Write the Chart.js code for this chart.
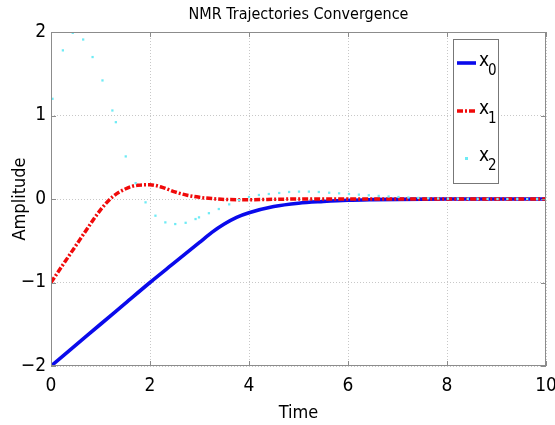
<!DOCTYPE html>
<html>
<head>
<meta charset="utf-8">
<script src="https://cdn.jsdelivr.net/npm/chart.js@4/dist/chart.umd.min.js"></script>
<style>
html,body{margin:0;padding:0;background:#fff;}
#wrap{position:relative;width:555px;height:425px;}
</style>
</head>
<body>
<div id="wrap"><canvas id="c" width="555" height="425"></canvas></div>
<script>
// ---- data ----
const chartTitle = "NMR Trajectories Convergence";
const xTitle = "Time";
const yTitle = "Amplitude";
const xTicks = [0, 2, 4, 6, 8, 10];
const yTicks = [-2, -1, 0, 1, 2];

const t0 = [0, 0.5, 1, 1.5, 2, 2.5, 3, 3.25, 3.5, 3.75, 4, 4.5, 5, 5.5, 6, 6.5, 7, 8, 9, 10];
const x0Values = [-2, -1.75, -1.5, -1.25, -1.0, -0.76, -0.52, -0.40, -0.30, -0.22, -0.165, -0.09, -0.05, -0.03, -0.015, -0.008, -0.004, 0, 0, 0];

const t1 = [0, 0.25, 0.5, 0.75, 1, 1.25, 1.5, 1.75, 2, 2.25, 2.5, 2.75, 3, 3.25, 3.5, 4, 4.5, 5, 6, 7, 8, 9, 10];
const x1Values = [-1, -0.78, -0.56, -0.34, -0.13, 0.03, 0.12, 0.165, 0.17, 0.14, 0.085, 0.045, 0.02, 0.005, -0.005, -0.008, -0.004, 0, 0, 0, 0, 0, 0];

const t2 = [0.03, 0.24, 0.44, 0.65, 0.84, 1.04, 1.24, 1.31, 1.51, 1.71, 1.91, 2.11, 2.31, 2.51, 2.72, 2.92, 2.99, 3.19, 3.39, 3.60, 3.80, 4.00, 4.20, 4.40, 4.61, 4.81, 5.01, 5.21, 5.41, 5.62, 5.82, 6.02, 6.22, 6.42, 6.62, 6.82, 7.02, 7.22, 7.42, 7.62, 7.82, 8.02, 8.22, 8.42, 8.62, 8.82, 9.02, 9.22, 9.42, 9.62, 9.82];
const x2Values = [1.20, 1.78, 1.99, 1.91, 1.70, 1.42, 1.06, 0.92, 0.51, 0.19, -0.04, -0.20, -0.28, -0.30, -0.285, -0.24, -0.22, -0.17, -0.12, -0.064, -0.012, 0.024, 0.048, 0.06, 0.072, 0.084, 0.088, 0.088, 0.084, 0.075, 0.068, 0.06, 0.052, 0.045, 0.037, 0.03, 0.024, 0.018, 0.013, 0.009, 0.006, 0.004, 0.003, 0.002, 0.001, 0.001, 0, 0, 0, 0, 0];

const seriesNames = ["x", "x", "x"];
const seriesSubs = ["0", "1", "2"];

// ---- build ----
const FONT = "'DejaVu Sans Condensed', 'Liberation Sans Narrow', 'Arial Narrow', 'Liberation Sans', sans-serif";
const pts = (ts, vs) => ts.map((t, i) => ({x: t, y: vs[i]}));

const frame = {
  id: 'frame',
  afterDraw(chart) {
    const {ctx, chartArea: a} = chart;
    ctx.save();
    ctx.strokeStyle = '#8c8c8c';
    ctx.lineWidth = 1;
    ctx.strokeRect(a.left + 0.5, a.top + 0.5, a.right - a.left - 1, a.bottom - a.top - 1);
    const xs = chart.scales.x, ys = chart.scales.y;
    ctx.beginPath();
    xTicks.forEach(v => {
      const px = Math.round(xs.getPixelForValue(v)) + 0.5;
      ctx.moveTo(px, a.bottom); ctx.lineTo(px, a.bottom - 5);
      ctx.moveTo(px, a.top); ctx.lineTo(px, a.top + 5);
    });
    yTicks.forEach(v => {
      const py = Math.round(ys.getPixelForValue(v)) + 0.5;
      ctx.moveTo(a.left, py); ctx.lineTo(a.left + 5, py);
      ctx.moveTo(a.right, py); ctx.lineTo(a.right - 5, py);
    });
    ctx.stroke();
    ctx.fillStyle = '#000';
    ctx.font = "16px " + FONT;
    ctx.textAlign = 'center';
    ctx.textBaseline = 'middle';
    ctx.fillText(chartTitle, (a.left + a.right) / 2, 15);
    // legend
    const lx = 453, ly = 39, lw = 45, lh = 144;
    ctx.fillStyle = '#fff';
    ctx.fillRect(lx, ly, lw, lh);
    ctx.strokeStyle = '#777';
    ctx.strokeRect(lx + 0.5, ly + 0.5, lw, lh);
    const rows = [63, 111, 158];
    chart.data.datasets.forEach((ds, i) => {
      const y = rows[i];
      ctx.save();
      if (i < 2) {
        ctx.strokeStyle = ds.borderColor;
        ctx.lineWidth = ds.borderWidth;
        ctx.setLineDash(ds.borderDash || []);
        ctx.beginPath(); ctx.moveTo(457, y); ctx.lineTo(476, y); ctx.stroke();
      } else {
        ctx.fillStyle = ds.pointBackgroundColor;
        ctx.fillRect(465, y - 1, 3, 3);
      }
      ctx.restore();
      ctx.fillStyle = '#000';
      ctx.textAlign = 'left';
      ctx.textBaseline = 'middle';
      ctx.font = "19px " + FONT;
      ctx.fillText(seriesNames[i], 479, y - 2);
      ctx.font = "15px " + FONT;
      ctx.fillText(seriesSubs[i], 488, y + 8);
    });
    ctx.restore();
  }
};

new Chart(document.getElementById('c'), {
  type: 'scatter',
  data: {
    datasets: [
      {label: 'x0', data: pts(t0, x0Values), showLine: true, borderColor: 'rgb(10,10,235)', borderWidth: 3.6, pointRadius: 0, cubicInterpolationMode: 'monotone', order: 2},
      {label: 'x1', data: pts(t1, x1Values), showLine: true, borderColor: 'rgb(240,10,10)', borderWidth: 3.5, borderDash: [6, 2, 2, 2], pointRadius: 0, cubicInterpolationMode: 'monotone', order: 1},
      {label: 'x2', data: pts(t2, x2Values), showLine: false, pointRadius: 1.6, pointStyle: 'rect', pointBackgroundColor: 'rgb(110,235,245)', pointBorderWidth: 0, borderColor: 'rgb(110,235,245)', order: 0}
    ]
  },
  options: {
    responsive: false,
    animation: false,
    events: [],
    layout: {padding: {left: 0, right: 0, top: 32, bottom: 0}},
    plugins: {legend: {display: false}, title: {display: false}, tooltip: {enabled: false}},
    scales: {
      x: {
        type: 'linear', min: 0, max: 10,
        afterBuildTicks: s => { s.ticks = xTicks.map(v => ({value: v})); },
        afterFit: s => { s.height = 59; s.paddingRight = 9; s.paddingLeft = 0; },
        grid: {color: '#c8c8c8', drawTicks: false, lineWidth: 1},
        border: {display: false, dash: [1, 2]},
        ticks: {color: '#000', font: {family: FONT, size: 19}, padding: 9, maxRotation: 0},
        title: {display: true, text: xTitle, color: '#000', font: {family: FONT, size: 18}, padding: {top: 0, bottom: 1}}
      },
      y: {
        min: -2, max: 2,
        afterBuildTicks: s => { s.ticks = yTicks.map(v => ({value: v})); },
        afterFit: s => { s.width = 51; },
        grid: {color: '#c8c8c8', drawTicks: false, lineWidth: 1},
        border: {display: false, dash: [1, 2]},
        ticks: {color: '#000', font: {family: FONT, size: 19}, padding: 5, callback: v => String(v).replace('-', '\u2212')},
        title: {display: true, text: yTitle, color: '#000', font: {family: FONT, size: 18}, padding: {top: 10, bottom: 0}}
      }
    }
  },
  plugins: [frame]
});
</script>
</body>
</html>
